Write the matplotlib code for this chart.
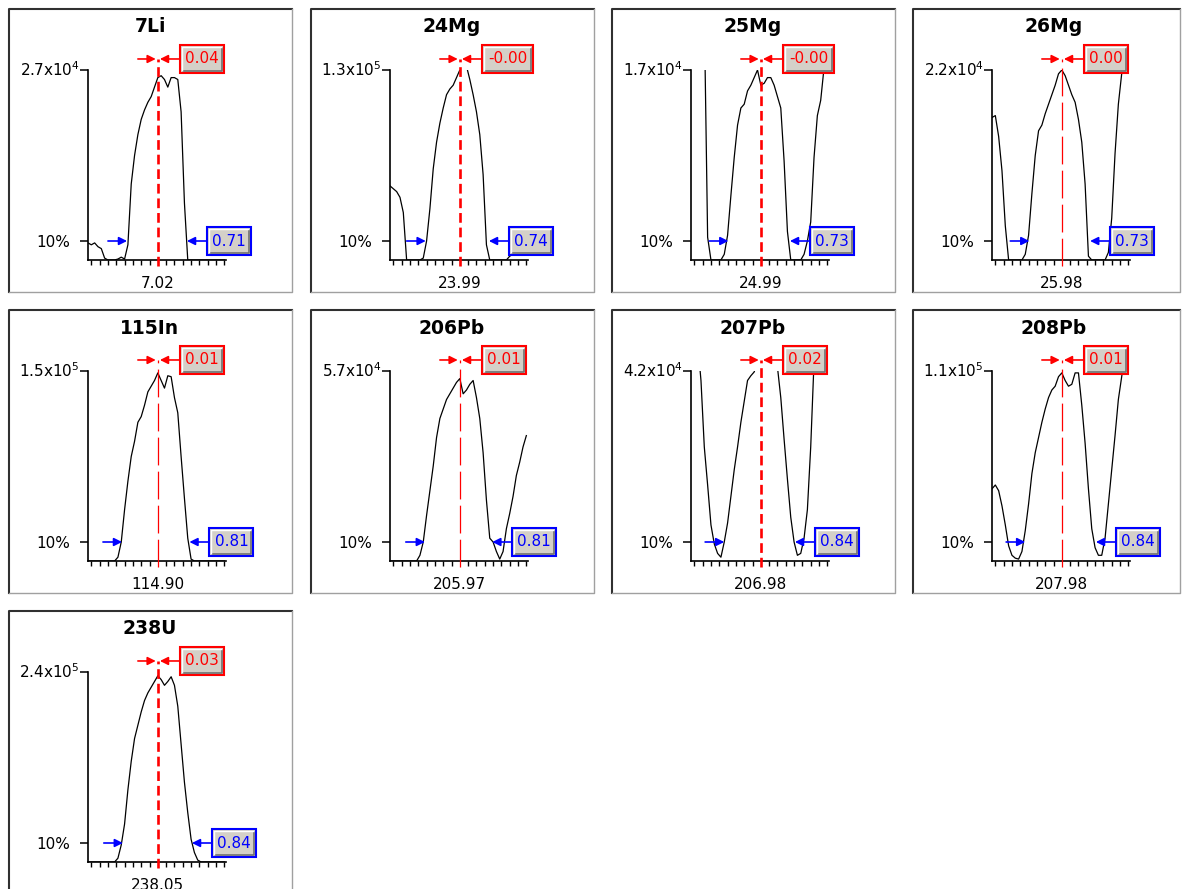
import numpy as np
import matplotlib
matplotlib.use('Agg')
import matplotlib.pyplot as plt
from matplotlib.patches import Rectangle
from matplotlib.lines import Line2D
from matplotlib.ticker import MultipleLocator

plt.rcParams['font.family'] = ['DejaVu Sans']
plt.rcParams['lines.scale_dashes'] = False

W, H = 1182, 889

# --- data ---
isotopes = ['7Li', '24Mg', '25Mg', '26Mg', '115In', '206Pb', '207Pb', '208Pb', '238U']
masses = [7.02, 23.99, 24.99, 25.98, 114.90, 205.97, 206.98, 207.98, 238.05]
max_counts = [2.7e4, 1.3e5, 1.7e4, 2.2e4, 1.5e5, 5.7e4, 4.2e4, 1.1e5, 2.4e5]
peak_shift = [0.04, -0.0, -0.0, 0.0, 0.01, 0.01, 0.02, 0.01, 0.03]
width_10 = [0.71, 0.74, 0.73, 0.73, 0.81, 0.81, 0.84, 0.84, 0.84]
edge_left = [-0.37, -0.41, -0.39, -0.39, -0.43, -0.42, -0.44, -0.44, -0.42]
edge_right = [0.35, 0.35, 0.35, 0.34, 0.38, 0.39, 0.41, 0.41, 0.41]

# scan offsets from the peak centre (amu)
offset = [-0.84, -0.80, -0.76, -0.72, -0.68, -0.64, -0.60, -0.56, -0.52, -0.48,
          -0.44, -0.40, -0.36, -0.32, -0.28, -0.24, -0.20, -0.16, -0.12, -0.08,
          -0.04, 0.00, 0.04, 0.08, 0.12, 0.16, 0.20, 0.24, 0.28, 0.32,
          0.36, 0.40, 0.44, 0.48, 0.52, 0.56, 0.60, 0.64, 0.68, 0.72,
          0.76, 0.80]

n = np.nan
# intensity, fraction of the max count shown on the axis
prof_li7 = [0.09, 0.08, 0.09, 0.07, 0.06, 0.01, 0, 0, 0, 0.005,
            0.015, 0.005, 0.08, 0.40, 0.55, 0.66, 0.74, 0.79, 0.83, 0.86,
            0.91, 0.96, 0.97, 0.95, 0.91, 0.96, 0.96, 0.95, 0.78, 0.30,
            0, 0, 0, 0, 0, 0, 0, 0, 0, 0,
            0, 0]
prof_mg24 = [0.39, 0.375, 0.36, 0.33, 0.25, 0, 0, 0, 0, 0,
             0.01, 0.10, 0.27, 0.48, 0.62, 0.72, 0.80, 0.87, 0.90, 0.92,
             0.96, 1.0, 1.05, 1.02, 0.95, 0.87, 0.78, 0.66, 0.45, 0.08,
             0, 0, 0, 0, 0, 0, 0.02, 0.03, n, n,
             n, n]
prof_mg25 = [n, n, n, n, 1.3, 0.12, 0, 0, 0, 0,
             0.03, 0.13, 0.34, 0.54, 0.71, 0.80, 0.82, 0.89, 0.92, 0.96,
             1.0, 0.92, 0.93, 0.96, 0.96, 0.92, 0.86, 0.80, 0.52, 0.15,
             0, 0, 0, 0, 0.03, 0.10, 0.20, 0.54, 0.76, 0.84,
             1.01, 1.2]
prof_mg26 = [0.75, 0.76, 0.65, 0.47, 0.18, 0, 0, 0, 0, 0,
             0.03, 0.13, 0.35, 0.55, 0.68, 0.71, 0.77, 0.82, 0.87, 0.92,
             0.98, 1.0, 0.97, 0.92, 0.87, 0.83, 0.74, 0.62, 0.40, 0.02,
             0, 0, 0, 0, 0, 0.04, 0.22, 0.56, 0.82, 0.98,
             1.2, 1.4]
prof_in115 = [0, 0, 0, 0, 0, 0, 0, 0, 0, 0.02,
              0.10, 0.27, 0.42, 0.55, 0.63, 0.73, 0.76, 0.82, 0.89, 0.92,
              0.95, 0.99, 0.95, 0.91, 0.975, 0.97, 0.86, 0.78, 0.55, 0.33,
              0.12, 0.01, 0, 0, 0, 0, 0, 0, 0, 0,
              0, 0]
prof_pb206 = [0, 0, 0, 0, 0, 0, 0, 0, 0, 0.03,
              0.10, 0.24, 0.37, 0.50, 0.65, 0.75, 0.80, 0.85, 0.88, 0.91,
              0.94, 0.96, 0.88, 0.90, 0.93, 0.95, 0.86, 0.75, 0.57, 0.32,
              0.12, 0.10, 0.05, 0.01, 0.05, 0.17, 0.25, 0.34, 0.45, 0.52,
              0.60, 0.66]
prof_pb207 = [n, n, 1.15, 0.95, 0.60, 0.40, 0.19, 0.09, 0.04, 0.02,
              0.10, 0.20, 0.34, 0.48, 0.60, 0.73, 0.84, 0.95, 0.975, 0.995,
              1.05, 1.08, 1.10, 1.08, 1.06, 1.05, 1.02, 0.86, 0.64, 0.43,
              0.23, 0.10, 0.03, 0.04, 0.12, 0.27, 0.60, 1.05, 1.3, n,
              n, n]
prof_pb208 = [0.38, 0.40, 0.37, 0.29, 0.19, 0.08, 0.03, 0.015, 0.01, 0.05,
              0.16, 0.30, 0.46, 0.57, 0.65, 0.73, 0.80, 0.86, 0.90, 0.92,
              0.97, 0.99, 0.95, 0.92, 0.93, 0.99, 0.99, 0.82, 0.62, 0.38,
              0.17, 0.07, 0.03, 0.03, 0.12, 0.30, 0.48, 0.66, 0.85, 0.97,
              1.1, 1.2]
prof_u238 = [0, 0, 0, 0, 0, 0, 0, 0, 0, 0.02,
             0.09, 0.20, 0.38, 0.53, 0.65, 0.72, 0.79, 0.85, 0.89, 0.92,
             0.95, 0.98, 0.96, 0.93, 0.95, 0.975, 0.93, 0.82, 0.62, 0.42,
             0.26, 0.12, 0.05, 0.01, 0, 0, 0, 0, 0, 0,
             0, 0]
profiles = [prof_li7, prof_mg24, prof_mg25, prof_mg26, prof_in115,
            prof_pb206, prof_pb207, prof_pb208, prof_u238]

# heavy short-dash centre line on these panels, thin long-dash on the rest
heavy_centre = [True, True, True, False, False, False, True, False, True]

col_x = [9, 311, 612, 913]
row_y = [9, 310, 611]
BOX_FACE = '#d4d0c8'
FS = 11


def fig_line(fig, xs, ys, color, lw):
    fig.add_artist(Line2D([x / W for x in xs], [1 - y / H for y in ys],
                          transform=fig.transFigure, color=color, lw=lw))


def value_box(ax, x0, yc, w, text, color):
    h = 0.145
    ax.add_patch(Rectangle((x0, yc - h / 2), w, h, facecolor=BOX_FACE,
                           edgecolor=color, lw=1.5, clip_on=False, zorder=6))
    dx, dy = 0.025, 0.011
    ax.plot([x0 + dx, x0 + w - dx, x0 + w - dx], [yc - h / 2 + dy, yc - h / 2 + dy, yc + h / 2 - dy],
            color='#707070', lw=1.2, clip_on=False, zorder=7, solid_capstyle='butt')
    ax.plot([x0 + dx, x0 + dx, x0 + w - dx], [yc - h / 2 + dy, yc + h / 2 - dy, yc + h / 2 - dy],
            color='white', lw=1.0, clip_on=False, zorder=7, solid_capstyle='butt')
    ax.text(x0 + w / 2, yc, text, color=color, ha='center', va='center',
            fontsize=FS, zorder=8, clip_on=False)


def arrow(ax, x_from, x_to, y, color):
    ax.annotate('', xy=(x_to, y), xytext=(x_from, y), annotation_clip=False,
                arrowprops=dict(arrowstyle='-|>', color=color, lw=1.2,
                                mutation_scale=12, shrinkA=0, shrinkB=0),
                zorder=5)


fig = plt.figure(figsize=(W / 100, H / 100), dpi=100)

for i, name in enumerate(isotopes):
    x0 = col_x[i % 4]
    y0 = row_y[i // 4]
    x1 = min(x0 + 283, 1180)
    y1 = y0 + 283

    # sunken panel frame
    fig_line(fig, [x0, x0, x1], [y1, y0, y0], '#303030', 1.5)
    fig_line(fig, [x1, x1, x0], [y0, y1, y1], '#a0a0a0', 1.0)

    fig.text((x0 + 141) / W, 1 - (y0 + 18) / H, name, ha='center', va='center',
             fontsize=13.5, fontweight='bold')

    ax = fig.add_axes([(x0 + 79) / W, 1 - (y0 + 251) / H, 138 / W, 190 / H])
    ax.patch.set_alpha(0)
    ax.set_xlim(-0.84, 0.82)
    ax.set_ylim(0, 1)
    for s in ['top', 'right']:
        ax.spines[s].set_visible(False)
    for s in ['left', 'bottom']:
        ax.spines[s].set_linewidth(1.2)

    # y axis: only the 10 % level and the maximum
    ax.set_yticks([0.1, 1.0])
    ax.set_yticklabels([])
    ax.tick_params(axis='y', length=5.8, width=1.1)
    e = int(np.floor(np.log10(max_counts[i])))
    m = max_counts[i] / 10 ** e
    ax.annotate(f'{m:.1f}x10$^{{{e}}}$', xy=(0, 1.0), xycoords=('axes fraction', 'data'),
                xytext=(-5.8, -4.3), textcoords='offset points', ha='right',
                va='baseline', fontsize=FS, annotation_clip=False)
    ax.annotate('10%', xy=(0, 0.1), xycoords=('axes fraction', 'data'),
                xytext=(-13, -4.3), textcoords='offset points', ha='right',
                va='baseline', fontsize=FS, annotation_clip=False)

    # x axis: small ticks every 0.1 amu, centre mass below
    ax.set_xticks([0])
    ax.set_xticklabels([])
    ax.xaxis.set_minor_locator(MultipleLocator(0.1))
    ax.tick_params(axis='x', which='major', length=0)
    ax.tick_params(axis='x', which='minor', length=3.8, width=1.0)
    ax.annotate(f'{masses[i]:.2f}', xy=(0, 0), xycoords='data', xytext=(0, -20),
                textcoords='offset points', ha='center', va='baseline',
                fontsize=FS, annotation_clip=False)

    ax.plot(offset, profiles[i], color='black', lw=0.9, zorder=2)

    # centre line
    if heavy_centre[i]:
        ax.plot([0, 0], [-0.03, 1.06], color='red', lw=1.9, dashes=(7, 3.5),
                clip_on=False, zorder=3)
    else:
        ax.plot([0, 0], [-0.03, 1.06], color='red', lw=0.9, dashes=(20, 4.5),
                clip_on=False, zorder=3)

    # peak shift marker
    txt = f'{peak_shift[i]:.2f}'
    bw = 0.08 * len(txt) + 0.21
    ya = 1.058
    arrow(ax, -0.24, -0.025, ya, 'red')
    arrow(ax, 0.27, 0.025, ya, 'red')
    value_box(ax, 0.27, ya, bw, txt, 'red')

    # width at 10 % marker
    txt = f'{width_10[i]:.2f}'
    bx = edge_right[i] + 0.24
    arrow(ax, edge_left[i] - 0.23, edge_left[i], 0.1, 'blue')
    arrow(ax, bx, edge_right[i], 0.1, 'blue')
    value_box(ax, bx, 0.1, 0.08 * len(txt) + 0.21, txt, 'blue')

fig.savefig('out.png', dpi=100)
